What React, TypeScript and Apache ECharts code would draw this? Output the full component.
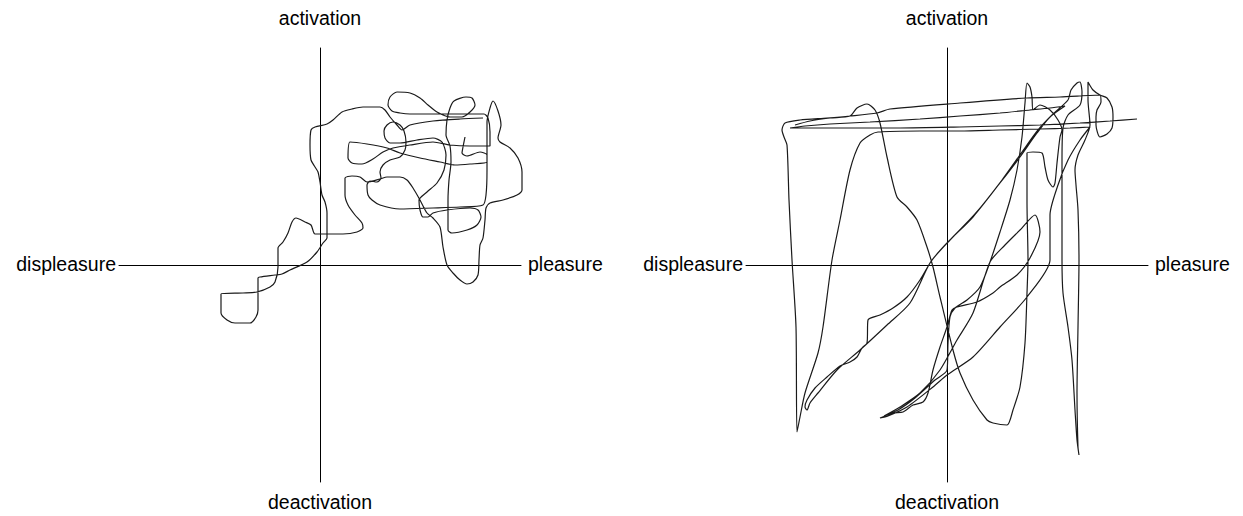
import React, { useEffect, useRef } from "react";
import * as echarts from "echarts";

// Affect-grid trajectories: [pleasure, activation] in arbitrary units (axis spans about ±200)
const leftPath: number[][] = [
  [145,128],[143,118],[142,112],[147,109],[160,113],[167,110],[167,103],[150,101],[135,100],[120,103],[100,107],[80,112],[67,117],[47,121],[30,123],[28,107],[32,102],[42,101],[53,106],[63,113],[73,117],[90,120],[113,123],[130,120],[150,119],[170,119],
  [170,133],[168,147],[164,151],[150,151],[130,151],[110,151],[90,151],[80,152],[72,154],[68,160],[70,168],[77,173],[90,172],[100,167],[108,160],[117,153],[130,148],[142,148],[150,153],[155,160],[152,167],[146,168],[134,164],[130,157],[127,145],[126,130],[130,119],[131,103],[129,85],[128,65],[128,35],[132,32],[147,35],[157,40],[161,48],[158,55],[150,57],[127,55],[113,52],[108,48],[103,48],[100,55],[99,65],[107,73],[117,82],[124,95],[126,110],[122,123],[113,127],[97,125],[80,122],[70,122],[65,127],[64,134],[67,140],[73,143],[80,140],[84,134],[86,123],[85,115],[80,108],[70,105],[63,100],[60,93],[61,87],[57,83],[50,84],[47,80],[48,70],[52,65],[60,60],[80,56],[113,57],[140,58],[163,60],[166,70],[167,95],[167,125],[167,143],[170,157],[173,164],[178,154],[181,140],[178,127],[180,123],[190,117],[198,107],[202,93],[202,75],[197,70],[183,65],[170,62],[166,57],[165,45],[163,27],[160,20],[159,5],[158,-10],[153,-17],[147,-19],[140,-15],[133,-8],[127,0],[123,18],[120,38],[113,47],[107,52],[100,65],[93,77],[87,85],[80,88],[67,88],[60,86],[47,83],[40,88],[32,89],[25,87],[25,70],[28,60],[35,50],[42,42],[43,37],[37,33],[23,31],[7,31],[-5,31],[-9,40],[-15,43],[-24,47],[-28,43],[-32,32],[-37,23],[-42,17],[-42,-2],[-45,-17],[-50,-22],[-63,-27],[-77,-28],[-99,-29],[-99,-48],[-93,-55],[-85,-58],[-70,-58],[-64,-52],[-62,-45],[-62,-13],[-60,-12],[-45,-10],[-38,-9],[-30,-5],[-13,3],[-3,13],[3,22],[7,27],[7,38],[7,52],[5,63],[2,70],[0,83],[-2,93],[-5,98],[-9,105],[-10,120],[-9,135],[-5,138],[7,141],[13,145],[22,153],[32,156],[43,158],[60,158],[65,155],[70,148],[77,140],[82,135],[90,140],[113,144],[140,146],[163,147]
];

const rightPath: number[][] = [
  [190,146],[163,144],[133,142],[93,140],[53,139],[13,138],[-47,137],[-97,137],[-147,137],[-157,137],
  [-142,139],[-117,141],[-77,143],[-27,146],[13,149],[53,152],[83,155],[103,157],[118,159],
  [103,148],[90,132],[73,108],[53,82],[26,48],[0,22],[-17,2],[-37,-38],[-60,-60],[-87,-85],[-110,-105],[-129,-128],[-137,-138],[-140,-145],[-142,-142],[-140,-135],[-132,-123],[-120,-112],[-107,-101],[-97,-97],[-90,-92],[-85,-83],[-80,-78],[-79,-55],[-67,-50],[-54,-43],[-40,-32],[-27,-15],[-15,5],[3,25],[28,51],[55,85],[75,113],[91,135],[105,150],[121,165],
  [124,175],[130,182],[133,183],[135,173],[133,160],[121,150],[116,137],[115,105],[115,65],[115,5],[116,-28],[121,-62],[125,-95],[128,-145],[130,-175],[132,-190],[131,-182],[130,-128],[131,-62],[132,5],[131,55],[129,80],[128,95],[131,110],[138,125],[143,140],[141,165],[141,183],[146,175],
  [153,170],[160,167],[165,158],[166,148],[165,137],[160,131],[153,128],[149,140],[149,148],[150,155],[154,163],[153,170],
  [113,168],[80,167],[13,162],[-57,156],[-70,152],[-97,149],[-120,147],[-147,145],[-162,142],[-165,135],[-163,128],[-160,120],[-158,65],[-155,5],[-151,-62],[-150,-167],[-147,-152],[-142,-128],[-129,-88],[-124,-62],[-115,5],[-107,45],[-97,95],[-87,122],[-77,130],[-69,133],[-27,134],[13,134],[53,135],[93,136],[123,137],[143,138],
  [133,125],[121,105],[111,80],[103,50],[103,25],[103,5],[80,-32],[53,-62],[26,-92],[0,-110],[-14,-122],[-40,-142],[-59,-151],[-67,-153],[-54,-148],[-44,-147],[-34,-140],[-24,-137],[-19,-128],[-14,-105],[-7,-82],[0,-62],[5,-45],[10,-42],[30,-37],[46,-28],[53,-22],[70,-10],[83,7],[93,33],[88,50],[73,35],[58,20],[43,3],[26,-48],[10,-75],[-7,-105],[-27,-128],[-47,-142],[-63,-151],[-49,-145],[-32,-133],[-12,-115],[0,-105],[1,-78],[3,-52],[8,-43],[20,-35],[33,-22],[43,3],[53,33],[63,65],[70,95],[75,128],[78,162],[80,182],[83,178],[85,168],[86,155],[93,160],[103,155],[111,145],[115,135],
  [113,128],[110,102],[108,82],[106,78],[101,85],[98,98],[95,112],[86,113],[80,112],[80,62],[81,5],[80,-28],[78,-78],[73,-122],[66,-145],[60,-160],[46,-158],[40,-155],[26,-135],[13,-108],[6,-85],[-7,-32],[-14,-2],[-20,18],[-30,45],[-40,58],[-50,68],[-60,108],[-67,142],[-72,155],[-80,161],[-90,157],[-97,149],[-117,147],[-137,144],[-152,140]
];

const axisNames = { top: "activation", bottom: "deactivation", left: "displeasure", right: "pleasure" };
const xExtent = [-201, 201];
const yExtent = [-217, 217];

export default function App() {
  const ref = useRef<HTMLDivElement>(null);
  useEffect(() => {
    if (!ref.current) return;
    const chart = echarts.init(ref.current, null, { renderer: "svg" });
    const panels = [
      { cx: 320, left: 119 },
      { cx: 947, left: 746 },
    ];
    const gridTop = 48, gridH = 434, gridW = 402;
    const axisLine = { show: true, onZero: true, lineStyle: { color: "#000", width: 1 } };
    const font = { fontFamily: "Liberation Sans, Arial, sans-serif", fontSize: 19.5, fill: "#000" };
    const graphics: any[] = [];
    panels.forEach((p) => {
      graphics.push(
        { type: "text", x: p.cx, y: 18, style: { ...font, text: axisNames.top, align: "center", verticalAlign: "middle" } },
        { type: "text", x: p.cx, y: 502, style: { ...font, text: axisNames.bottom, align: "center", verticalAlign: "middle" } },
        { type: "text", x: p.left - 3, y: 264, style: { ...font, text: axisNames.left, align: "right", verticalAlign: "middle" } },
        { type: "text", x: p.left + gridW + 7, y: 264, style: { ...font, text: axisNames.right, align: "left", verticalAlign: "middle" } }
      );
    });
    chart.setOption({
      animation: false,
      grid: panels.map((p) => ({ left: p.left, top: gridTop, width: gridW, height: gridH })),
      xAxis: panels.map((_, i) => ({
        gridIndex: i, type: "value", min: xExtent[0], max: xExtent[1],
        axisLine, axisTick: { show: false }, axisLabel: { show: false }, splitLine: { show: false },
      })),
      yAxis: panels.map((_, i) => ({
        gridIndex: i, type: "value", min: yExtent[0], max: yExtent[1],
        axisLine, axisTick: { show: false }, axisLabel: { show: false }, splitLine: { show: false },
      })),
      series: [leftPath, rightPath].map((d, i) => ({
        type: "line", xAxisIndex: i, yAxisIndex: i, data: d, showSymbol: false,
        smooth: 0.25, lineStyle: { color: "#1a1a1a", width: 1.2 }, silent: true,
      })),
      graphic: graphics,
    });
    return () => chart.dispose();
  }, []);
  return <div ref={ref} style={{ position: "fixed", left: 0, top: 0, width: 1243, height: 516, background: "#fff" }} />;
}
